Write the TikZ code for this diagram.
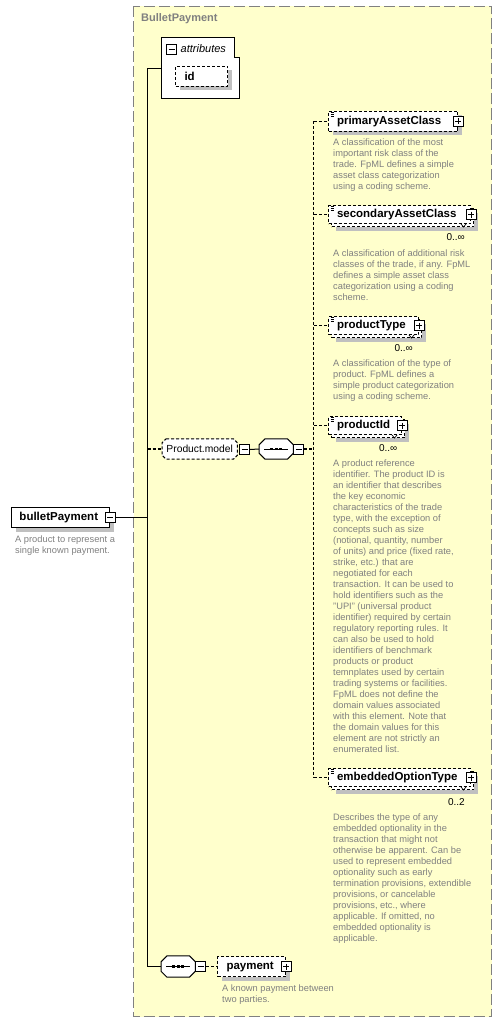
\documentclass[tikz,border=0pt]{standalone}
\usepackage{fontspec}
\setmainfont{Liberation Sans}
\usetikzlibrary{positioning, shadows}
\definecolor{xsyellow}{RGB}{255,255,204}
\definecolor{xsgray}{RGB}{128,128,128}
\definecolor{xsshadow}{RGB}{192,192,192}
\definecolor{xsdesc}{RGB}{128,128,128}
\pgfdeclarelayer{frame}
\pgfdeclarelayer{background}
\pgfsetlayers{frame,background,main}

% octagon outline round a node: #1 node, #2 corner cut
\newcommand\octpath[2]{([xshift=#2]#1.north west) -- ([xshift=-#2]#1.north east) -- ([yshift=-#2]#1.north east)
  -- ([yshift=#2]#1.south east) -- ([xshift=-#2]#1.south east) -- ([xshift=#2]#1.south west)
  -- ([yshift=#2]#1.south west) -- ([yshift=-#2]#1.north west) -- cycle}

\tikzset{
  conn/.style={line width=1pt},
  optconn/.style={line width=1.1pt, dash pattern=on 3pt off 2pt},
  shadowed/.style={drop shadow={shadow xshift=4pt, shadow yshift=-4pt, fill=xsshadow, opacity=1}},
  box/.style={draw, fill=white, line width=1pt, minimum height=20pt, inner xsep=8.5pt,
    inner ysep=0pt, align=left, anchor=north west, font=\fontsize{11.5}{12}\selectfont\bfseries},
  elem/.style={box, shadowed},
  optbox/.style={box, dash pattern=on 3pt off 2pt},
  optelem/.style={optbox, shadowed},
  simple/.style={path picture={
    \foreach \k in {1.2,2.8,4.4}
      \draw[line width=0.7pt] ([xshift=2pt,yshift=-\k pt]path picture bounding box.north west) -- ++(4.5,0);}},
  pm/.style={draw, fill=white, line width=1pt, minimum size=10pt, inner sep=0pt},
  minus/.style={pm, path picture={
    \draw[line width=1pt] ([xshift=2pt]path picture bounding box.west) -- ([xshift=-2pt]path picture bounding box.east);}},
  plus/.style={pm, path picture={
    \draw[line width=1pt] ([xshift=2pt]path picture bounding box.west) -- ([xshift=-2pt]path picture bounding box.east)
      ([yshift=-2pt]path picture bounding box.north) -- ([yshift=2pt]path picture bounding box.south);}},
  group/.style={minimum height=20pt, inner sep=0pt, anchor=west},
  seqbox/.style={group, minimum width=34pt, path picture={
    \draw[line width=1pt] ([xshift=-12pt]path picture bounding box.center) -- ([xshift=12pt]path picture bounding box.center);
    \foreach \d in {-4.3,0,4.3}
      \fill ([xshift=\d pt-1.5pt,yshift=-1.3pt]path picture bounding box.center) rectangle ++(3,-2.6);}},
  octline/.style={line width=1pt, fill=white},
  octshadow/.style={fill=xsshadow, shift={(4,4)}},
  desc/.style={anchor=north west, inner sep=0pt, align=left, text=xsdesc, font=\fontsize{9.3}{11}\selectfont},
  occ/.style={anchor=east, inner sep=0pt, font=\fontsize{10}{12}\selectfont}
}

\begin{document}
\begin{tikzpicture}[x=1pt, y=-1pt]
  \useasboundingbox (0,0) rectangle (502,1022);
  % complex type frame
  \begin{pgfonlayer}{frame}
    \draw[line width=1pt, draw=xsgray, fill=xsyellow, dash pattern=on 11pt off 4pt] (133.5,6.5) rectangle (491.5,1016.5);
  \end{pgfonlayer}
  \node[anchor=west, inner sep=0pt, text=xsgray, font=\fontsize{11}{12}\selectfont\bfseries] (title) at (141,19) {BulletPayment};

  % attributes
  \node[minimum width=78pt, minimum height=60pt, anchor=north west, inner sep=0pt] (attr) at (161,38) {};
  \draw[line width=1pt, fill=white] (attr.north west) -- ([xshift=-5pt]attr.north east) -- ++(0,20) -- ++(5,0)
    -- (attr.south east) -- (attr.south west) -- cycle;
  \node[minus] (attrM) at (171.5,50) {};
  \node[anchor=west, inner sep=0pt, font=\fontsize{11}{12}\selectfont\itshape] (attrLbl) at (180.5,48.5) {attributes};
  \node[optelem, text width=34pt, inner xsep=9pt] (id) at (175,66) {id};

  % root element
  \node[elem, text width=82pt, inner xsep=8pt] (bp) at (11,507) {bulletPayment};
  \node[minus] (bpM) at (110,517.5) {};
  \node[desc] (bpD) at (15,536) {A product to represent a\\single known payment.};

  % Product.model group
  \node[group, minimum width=75pt, font=\fontsize{10.3}{12}\selectfont] (pmodel) at (162,449) {Product.model};
  \node[minus, anchor=west] (pmM) at (239,449.5) {};
  \node[seqbox] (seq1) at (259,449) {};
  \node[minus, anchor=west] (seq1M) at (seq1.east) {};
  \begin{pgfonlayer}{background}
    \fill[octshadow] \octpath{pmodel}{4pt};
    \draw[octline, dash pattern=on 3pt off 2pt] \octpath{pmodel}{4pt};
    \fill[octshadow] \octpath{seq1}{6pt};
    \draw[octline] \octpath{seq1}{6pt};
  \end{pgfonlayer}

  % product elements
  \node[optelem, simple, text width=112pt] (pac) at (328,111) {primaryAssetClass};
  \node[plus] (pacP) at (pac.east) {};
  \node[desc] (pacD) at (333,139) {A classification of the most\\important risk class of the\\trade. FpML defines a simple\\asset class categorization\\using a coding scheme.};

  \node[optelem, minimum height=18pt, text width=125pt] (sacB) at (331,208) {\phantom{x}};
  \node[optbox, simple, minimum height=18pt, text width=125pt] (sac) at (328,205) {secondaryAssetClass};
  \draw[line width=0.7pt] ([xshift=-10pt]sac.south east) -- ++(2.5,3) -- ++(2.5,-3);
  \node[plus] (sacP) at (sac.east) {};
  \node[occ] (sacO) at ([xshift=-6pt,yshift=-22.5pt]sacP.center) {0..∞};
  \node[desc] (sacD) at (333,250) {A classification of additional risk\\classes of the trade, if any. FpML\\defines a simple asset class\\categorization using a coding\\scheme.};

  \node[optelem, minimum height=18pt, text width=73pt] (ptB) at (331,319) {\phantom{x}};
  \node[optbox, simple, minimum height=18pt, text width=73pt] (pt) at (328,316) {productType};
  \draw[line width=0.7pt] ([xshift=-10pt]pt.south east) -- ++(2.5,3) -- ++(2.5,-3);
  \node[plus] (ptP) at (pt.east) {};
  \node[occ] (ptO) at ([xshift=-6pt,yshift=-22.5pt]ptP.center) {0..∞};
  \node[desc] (ptD) at (333,360) {A classification of the type of\\product. FpML defines a\\simple product categorization\\using a coding scheme.};

  \node[optelem, minimum height=18pt, text width=56pt] (pidB) at (331,419) {\phantom{x}};
  \node[optbox, simple, minimum height=18pt, text width=56pt] (pid) at (328,416) {productId};
  \draw[line width=0.7pt] ([xshift=-10pt]pid.south east) -- ++(2.5,3) -- ++(2.5,-3);
  \node[plus] (pidP) at (pid.east) {};
  \node[occ] (pidO) at ([xshift=-4.5pt,yshift=-22.5pt]pidP.center) {0..∞};
  \node[desc] (pidD) at (333,460) {A product reference\\identifier. The product ID is\\an identifier that describes\\the key economic\\characteristics of the trade\\type, with the exception of\\concepts such as size\\(notional, quantity, number\\of units) and price (fixed rate,\\strike, etc.) that are\\negotiated for each\\transaction. It can be used to\\hold identifiers such as the\\"UPI" (universal product\\identifier) required by certain\\regulatory reporting rules. It\\can also be used to hold\\identifiers of benchmark\\products or product\\temnplates used by certain\\trading systems or facilities.\\FpML does not define the\\domain values associated\\with this element. Note that\\the domain values for this\\element are not strictly an\\enumerated list.};

  \node[optelem, minimum height=18pt, text width=125pt] (eotB) at (331,771) {\phantom{x}};
  \node[optbox, simple, minimum height=18pt, text width=125pt] (eot) at (328,768) {embeddedOptionType};
  \draw[line width=0.7pt] ([xshift=-10pt]eot.south east) -- ++(2.5,3) -- ++(2.5,-3);
  \node[plus] (eotP) at (eot.east) {};
  \node[occ] (eotO) at ([xshift=-6pt,yshift=-24.5pt]eotP.center) {0..2};
  \node[desc] (eotD) at (333,814) {Describes the type of any\\embedded optionality in the\\transaction that might not\\otherwise be apparent. Can be\\used to represent embedded\\optionality such as early\\termination provisions, extendible\\provisions, or cancelable\\provisions, etc., where\\applicable. If omitted, no\\embedded optionality is\\applicable.};

  % payment sequence
  \node[seqbox, minimum height=21pt] (seq2) at (161,966.5) {};
  \node[minus, anchor=west] (seq2M) at (seq2.east) {};
  \begin{pgfonlayer}{background}
    \fill[octshadow] \octpath{seq2}{6pt};
    \draw[octline] \octpath{seq2}{6pt};
  \end{pgfonlayer}
  \node[optelem, text width=50pt, inner xsep=9pt] (pay) at (217,956) {payment};
  \node[plus] (payP) at (pay.east) {};
  \node[desc] (payD) at (222,985) {A known payment between\\two parties.};

  % connectors
  \coordinate (trunk) at (147.5,517.5);
  \draw[conn] (bpM.east) -- (trunk);
  \draw[conn] (attr.west) -| (trunk) |- (seq2.west);
  \draw[optconn] (trunk |- pmodel.west) -- (pmodel.west);
  \draw[conn] (pmM.east) -- (seq1.west);
  \coordinate (branch) at ([xshift=9.5pt]seq1M.east);
  \draw[optconn] (seq1M.east) -- (branch);
  \draw[optconn] (branch |- pac.west) -- (branch |- eot.west);
  \foreach \n in {pac,sac,pt,pid,eot}
    \draw[optconn] (branch |- \n.west) -- (\n.west);
  \draw[optconn] (seq2M.east) -- (pay.west);
\end{tikzpicture}
\end{document}
